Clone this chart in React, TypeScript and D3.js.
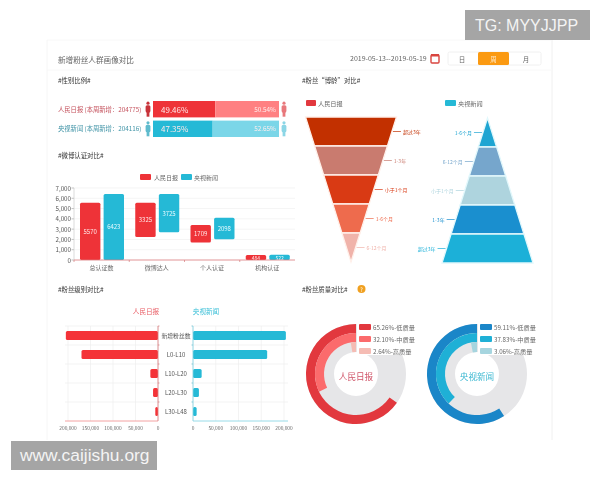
import React from "react";
import * as d3 from "d3";

const FONT = "'Noto Sans CJK SC','Open Sans',sans-serif";
const papers = ["人民日报", "央视新闻"];
const genderLabels = ["人民日报 (本周新增：204775)", "央视新闻 (本周新增：204116)"];
const genderMale = [49.46, 47.35];
const genderFemale = [50.54, 52.65];

const certCategories = ["总认证数", "微博达人", "个人认证", "机构认证"];
const certRedBase = [0, 2245, 1691, 0];
const certRedValue = [5570, 3325, 1709, 484];
const certBlueBase = [0, 2698, 2014, 0];
const certBlueValue = [6423, 3725, 2098, 522];

const funnelLeftLabels = ["超过3年", "1-3年", "小于1个月", "1-6个月", "6-12个月"];
const funnelLeftValues = [100, 80, 60, 40, 20, 0];
const funnelLeftColors = ["#c23000", "#c97b6f", "#d93a14", "#ee6b4d", "#f0b3aa"];
const funnelRightLabels = ["1-6个月", "6-12个月", "小于1个月", "1-3年", "超过3年"];
const funnelRightValues = [0, 20, 40, 60, 80, 100];
const funnelRightColors = ["#1fa5d2", "#76a6cc", "#aed4de", "#1a8fcf", "#1cb0d8"];

const levelCategories = ["新增粉丝数", "L0-L10", "L10-L20", "L20-L30", "L30-L48"];
const levelRed = [204775, 170000, 17000, 11000, 6000];
const levelBlue = [204116, 163000, 19000, 13000, 8000];

const qualityNames = ["低质量", "中质量", "高质量"];
const qualityRed = [65.26, 32.1, 2.64];
const qualityBlue = [59.11, 37.83, 3.06];
const qualityRedColors = ["#e2383e", "#fb6b6c", "#f5bcb4"];
const qualityBlueColors = ["#1a86c8", "#1fb0d6", "#a6d5df"];

const RED = "#ee3338";
const BLUE = "#25b9d6";

function Txt(p: any) {
  return <text fontFamily={FONT} dominantBaseline="central" {...p} />;
}

function Person({ x, y, c }: { x: number; y: number; c: string }) {
  return (
    <g fill={c}>
      <circle cx={x} cy={y - 6} r={1.6} />
      <rect x={x - 2.4} y={y - 4} width={4.8} height={7.5} rx={1.6} />
      <rect x={x - 1.4} y={y + 2} width={2.8} height={5.5} />
    </g>
  );
}

function Funnel({ values, labels, colors, cx, y0, y1, maxW, side, stroke }: any) {
  const n = labels.length;
  const y = d3.scaleLinear().domain([0, n]).range([y0, y1]);
  const w = d3.scaleLinear().domain([0, 100]).range([0, maxW]);
  const poly = d3.line<[number, number]>().x((d) => d[0]).y((d) => d[1]);
  return (
    <g>
      {labels.map((l: string, i: number) => {
        const a = w(values[i]) / 2, b = w(values[i + 1]) / 2;
        const d = poly([[cx - a, y(i)], [cx + a, y(i)], [cx + b, y(i + 1)], [cx - b, y(i + 1)]]) + "Z";
        const ym = (y(i) + y(i + 1)) / 2;
        const sx = cx + side * (a + b) / 2;
        return (
          <g key={l}>
            <path d={d} fill={colors[i]} stroke={stroke} strokeWidth={1.3} />
            <line x1={sx + side} x2={sx + side * 9} y1={ym} y2={ym} stroke={colors[i]} strokeWidth={0.7} />
            <Txt x={sx + side * 11} y={ym} fontSize={5} fill={colors[i]} textAnchor={side > 0 ? "start" : "end"}>{l}</Txt>
          </g>
        );
      })}
    </g>
  );
}

function Donut({ cx, cy, values, colors, title, titleColor, legendX }: any) {
  const radii = [[41, 50], [32, 41], [22, 32]];
  const arc = d3.arc<any>();
  const frac = d3.scaleLinear().domain([0, 100]).range([0, -2 * Math.PI]);
  return (
    <g>
      <path transform={`translate(${cx},${cy})`} d={arc({ innerRadius: 22, outerRadius: 50, startAngle: 0, endAngle: 2 * Math.PI }) as string} fill="#e6e6e8" />
      <rect x={cx + 1} y={cy - 53} width={58} height={34} fill="#fff" />
      {values.map((v: number, i: number) => (
        <path key={i} transform={`translate(${cx},${cy})`} fill={colors[i]}
          d={arc({ innerRadius: radii[i][0], outerRadius: radii[i][1], startAngle: 0, endAngle: frac(v) }) as string} />
      ))}
      {values.map((v: number, i: number) => (
        <g key={"l" + i}>
          <rect x={legendX} y={cy - 50 + i * 12} width={12} height={6} rx={1} fill={colors[i]} />
          <Txt x={legendX + 14} y={cy - 47 + i * 12} fontSize={6.2} fill="#666">{`${v.toFixed(2)}%-${qualityNames[i]}`}</Txt>
        </g>
      ))}
      <Txt x={cx} y={cy + 2} fontSize={8.6} textAnchor="middle" fill={titleColor}>{title}</Txt>
    </g>
  );
}

export default function App() {
  // gender
  const gx = d3.scaleLinear().domain([0, 100]).range([153, 279]);
  const gy = d3.scaleBand().domain(["0", "1"]).range([101, 137]).paddingInner(0.165);

  // certification
  const cy = d3.scaleLinear().domain([0, 7000]).range([260, 188]);
  const cx0 = d3.scaleBand().domain(certCategories).range([74, 295]);
  const cx1 = d3.scaleBand().domain(["a", "b"]).range([6, 50]).paddingInner(0.136);
  const cTicks = cy.ticks(7);

  // levels
  const lxL = d3.scaleLinear().domain([0, 200000]).range([158, 68]);
  const lxR = d3.scaleLinear().domain([0, 200000]).range([193, 284]);
  const ly = d3.scaleBand().domain(levelCategories).range([326, 421]);
  const lBar = 9;
  const lTicks = [0, 50000, 100000, 150000, 200000];
  const fmt = d3.format(",");

  const titles: [string, number, number][] = [
    ["#性别比例#", 58, 80],
    ["#微博认证对比#", 58, 155],
    ["#粉丝“博龄”对比#", 302, 80],
    ["#粉丝级别对比#", 58, 289],
    ["#粉丝质量对比#", 302, 289],
  ];

  return (
    <svg width={600} height={480} viewBox="0 0 600 480" style={{ position: "absolute", left: 0, top: 0 }}>
      <rect width={600} height={480} fill="#fff" />
      <g style={{ filter: "blur(0.45px)" }}>
        <line x1={47} x2={47} y1={40} y2={440} stroke="#f6f6f6" />
        <line x1={552} x2={552} y1={40} y2={440} stroke="#f0f0f0" />
        <line x1={47} x2={552} y1={40} y2={40} stroke="#f8f8f8" />
        <line x1={47} x2={552} y1={70} y2={70} stroke="#f8f8f8" />

        <Txt x={58} y={59} fontSize={7.6} fill="#666">新增粉丝人群画像对比</Txt>
        <Txt x={350} y={58} fontSize={7} fill="#666">2019-05-13--2019-05-19</Txt>
        <rect x={431} y={55} width={8} height={8} rx={1} fill="none" stroke="#d9453f" strokeWidth={1.4} />
        <rect x={431} y={54} width={8} height={2.5} fill="#d9453f" />
        <rect x={448} y={52} width={93} height={13} rx={1.5} fill="#fff" stroke="#f0f0f0" />
        <rect x={478} y={52} width={31} height={13} rx={1.5} fill="#fb9a12" />
        <Txt x={462} y={58.5} fontSize={6.5} fill="#666" textAnchor="middle">日</Txt>
        <Txt x={493.5} y={58.5} fontSize={6.5} fill="#ffe9c8" textAnchor="middle">周</Txt>
        <Txt x={526} y={58.5} fontSize={6.5} fill="#666" textAnchor="middle">月</Txt>

        {titles.map(([t, x, y]) => (
          <Txt key={t} x={x} y={y} fontSize={6.4} fill="#333">{t}</Txt>
        ))}
        <circle cx={361.5} cy={289} r={4} fill="#f0a020" />
        <Txt x={361.5} y={289} fontSize={6} fill="#fff" textAnchor="middle">?</Txt>

        {/* gender */}
        {genderLabels.map((l, i) => {
          const y = gy(String(i))!;
          const h = gy.bandwidth();
          const c1 = i === 0 ? RED : BLUE;
          const c2 = i === 0 ? "#ff8082" : "#7bd6e8";
          return (
            <g key={l}>
              <Txt x={58} y={y + h / 2} fontSize={6.3} fill={i === 0 ? "#c4515c" : "#3f93a6"}>{l}</Txt>
              <Person x={148} y={y + h / 2} c={i === 0 ? "#c8333a" : "#5fbbcd"} />
              <Person x={284} y={y + h / 2} c={i === 0 ? "#e8787c" : "#8cd6e6"} />
              <rect x={gx(0)} y={y} width={gx(genderMale[i]) - gx(0)} height={h} fill={c1} />
              <rect x={gx(genderMale[i])} y={y} width={gx(100) - gx(genderMale[i])} height={h} fill={c2} />
              <Txt x={161} y={y + h / 2} fontSize={8} fill="#ffe8e8">{genderMale[i].toFixed(2)}%</Txt>
              <Txt x={276} y={y + h / 2} fontSize={6.4} fill="#ffeeee" textAnchor="end">{genderFemale[i].toFixed(2)}%</Txt>
            </g>
          );
        })}

        {/* certification */}
        <rect x={140} y={174} width={11} height={6} rx={1} fill={RED} />
        <Txt x={154} y={177} fontSize={6} fill="#666">{papers[0]}</Txt>
        <rect x={181} y={174} width={11} height={6} rx={1} fill={BLUE} />
        <Txt x={194} y={177} fontSize={6} fill="#666">{papers[1]}</Txt>
        {cTicks.map((t) => (
          <g key={t}>
            {t > 0 && <line x1={74} x2={295} y1={cy(t)} y2={cy(t)} stroke="#efefef" strokeWidth={0.7} />}
            <line x1={71.5} x2={74} y1={cy(t)} y2={cy(t)} stroke="#999" strokeWidth={0.6} />
            <Txt x={71} y={cy(t)} fontSize={6.2} fill="#555" textAnchor="end">{fmt(t)}</Txt>
          </g>
        ))}
        <line x1={74} x2={74} y1={188} y2={260} stroke="#ccc" strokeWidth={0.7} />
        {certCategories.map((c, i) => {
          const x = cx0(c)!;
          return (
            <g key={c}>
              <rect x={x + cx1("a")!} y={cy(certRedBase[i] + certRedValue[i])} width={cx1.bandwidth()}
                height={cy(certRedBase[i]) - cy(certRedBase[i] + certRedValue[i])} rx={1.5} fill={RED} />
              <rect x={x + cx1("b")!} y={cy(certBlueBase[i] + certBlueValue[i])} width={cx1.bandwidth()}
                height={cy(certBlueBase[i]) - cy(certBlueBase[i] + certBlueValue[i])} rx={1.5} fill={BLUE} />
              <Txt x={x + cx1("a")! + cx1.bandwidth() / 2} y={cy(certRedBase[i] + certRedValue[i] / 2)} fontSize={i === 3 ? 5 : 6} fill="#ffeaea" textAnchor="middle">{certRedValue[i]}</Txt>
              <Txt x={x + cx1("b")! + cx1.bandwidth() / 2} y={cy(certBlueBase[i] + certBlueValue[i] / 2)} fontSize={i === 3 ? 5 : 6} fill="#e8fbff" textAnchor="middle">{certBlueValue[i]}</Txt>
              <Txt x={x + cx0.bandwidth() / 2} y={267.5} fontSize={6} fill="#666" textAnchor="middle">{c}</Txt>
              <line x1={x} x2={x} y1={260} y2={262} stroke="#c66" strokeWidth={0.6} />
            </g>
          );
        })}
        <line x1={74} x2={295} y1={260} y2={260} stroke="#d9787c" strokeWidth={0.8} />

        {/* age funnels */}
        <rect x={306} y={100} width={10} height={6} rx={1} fill="#e2383e" />
        <Txt x={318} y={103} fontSize={6.2} fill="#666">{papers[0]}</Txt>
        <rect x={445} y={100} width={11} height={6} rx={1} fill={BLUE} />
        <Txt x={458} y={103} fontSize={6.2} fill="#666">{papers[1]}</Txt>
        <Funnel values={funnelLeftValues} labels={funnelLeftLabels} colors={funnelLeftColors} cx={351} y0={117} y1={262} maxW={91} side={1} stroke="#fff0ea" />
        <Funnel values={funnelRightValues} labels={funnelRightLabels} colors={funnelRightColors} cx={487.5} y0={118} y1={263} maxW={91} side={-1} stroke="#e2f8fc" />

        {/* levels */}
        <Txt x={146} y={311} fontSize={6.6} fill="#e85a62" textAnchor="middle">{papers[0]}</Txt>
        <Txt x={206} y={311} fontSize={6.6} fill="#3cc0d8" textAnchor="middle">{papers[1]}</Txt>
        {lTicks.map((t) => (
          <g key={t}>
            <line x1={lxL(t)} x2={lxL(t)} y1={326} y2={421} stroke="#eee" strokeWidth={0.7} />
            <line x1={lxR(t)} x2={lxR(t)} y1={326} y2={421} stroke="#eee" strokeWidth={0.7} />
            <Txt x={lxL(t)} y={427.5} fontSize={4.8} fill="#666" textAnchor="middle">{fmt(t)}</Txt>
            <Txt x={lxR(t)} y={427.5} fontSize={4.8} fill="#666" textAnchor="middle">{fmt(t)}</Txt>
          </g>
        ))}
        {levelCategories.map((c, i) => {
          const y = ly(c)!;
          const m = y + ly.bandwidth() / 2;
          return (
            <g key={c}>
              <line x1={65} x2={158} y1={y} y2={y} stroke="#eee" strokeWidth={0.7} />
              <line x1={193} x2={288} y1={y} y2={y} stroke="#eee" strokeWidth={0.7} />
              <line x1={158} x2={159.5} y1={y} y2={y} stroke="#c66" strokeWidth={0.6} />
              <line x1={191.5} x2={193} y1={y} y2={y} stroke="#4ab" strokeWidth={0.6} />
              <rect x={lxL(levelRed[i])} y={m - lBar / 2} width={lxL(0) - lxL(levelRed[i])} height={lBar} rx={1.5} fill="#f43338" />
              <rect x={lxR(0)} y={m - lBar / 2} width={lxR(levelBlue[i]) - lxR(0)} height={lBar} rx={1.5} fill={BLUE} />
              <Txt x={176} y={m} fontSize={i === 0 ? 5.8 : 6} fill="#555" textAnchor="middle">{c}</Txt>
            </g>
          );
        })}
        <line x1={65} x2={158} y1={421} y2={421} stroke="#f08a8c" strokeWidth={0.8} />
        <line x1={158} x2={158} y1={326} y2={421} stroke="#d9787c" strokeWidth={0.8} />
        <line x1={193} x2={288} y1={421} y2={421} stroke="#7fd2e2" strokeWidth={0.8} />
        <line x1={193} x2={193} y1={326} y2={421} stroke="#7fd2e2" strokeWidth={0.8} />

        {/* quality */}
        <Donut cx={356} cy={374} values={qualityRed} colors={qualityRedColors} title={papers[0]} titleColor="#d0566a" legendX={359} />
        <Donut cx={477} cy={374} values={qualityBlue} colors={qualityBlueColors} title={papers[1]} titleColor="#3fb9d2" legendX={480} />
      </g>

      {/* watermarks */}
      <rect x={465} y={10} width={125} height={30} fill="#a5a5a5" />
      <text x={475} y={25} fontFamily="'Liberation Sans',sans-serif" fontSize={16} fill="#f4f4f4" dominantBaseline="central">TG: MYYJJPP</text>
      <rect x={11} y={441} width={146} height={29} fill="#a5a5a5" />
      <text x={20} y={455} fontFamily="'Liberation Sans',sans-serif" fontSize={17.4} fill="#f4f4f4" dominantBaseline="central">www.caijishu.org</text>
    </svg>
  );
}
